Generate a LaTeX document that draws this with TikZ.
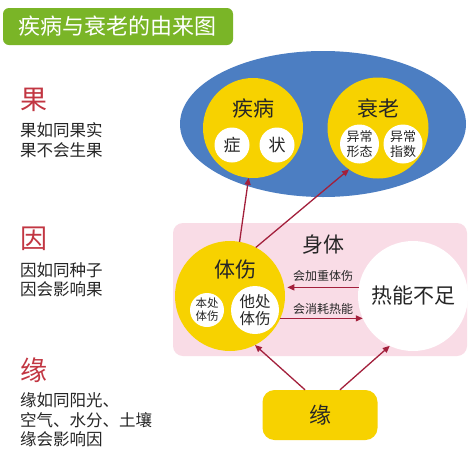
\documentclass[tikz,border=0pt]{standalone}
\usepackage{fontspec}
\setmainfont{Noto Sans CJK SC}
\usetikzlibrary{arrows.meta}
\definecolor{titlegreen}{HTML}{7AB527}
\definecolor{ellblue}{HTML}{4C7EC2}
\definecolor{ylw}{HTML}{F7D200}
\definecolor{pinkbg}{HTML}{F9DCE6}
\definecolor{redtxt}{HTML}{C23642}
\definecolor{arrred}{HTML}{A3203C}
\definecolor{txt}{HTML}{262626}
\tikzset{
  fs/.style={font=\fontsize{#1}{#1}\selectfont},
  fs2/.style 2 args={font=\fontsize{#1}{#2}\selectfont},
  ycirc/.style={circle, fill=ylw, inner sep=0pt, outer sep=0pt, minimum size=#1},
  wcirc/.style={circle, fill=white, inner sep=0pt, outer sep=0pt, minimum size=#1, text=txt, align=center},
  arr/.style={draw=arrred, line width=1.3pt, -{Triangle[length=7pt,width=6pt]}},
  bigred/.style={text=redtxt, fs=27, anchor=west, inner sep=0pt},
  leftline/.style={text=txt, fs=16.5, anchor=west, inner sep=0pt},
  lbl/.style={text=txt, inner sep=0pt}
}
\begin{document}
\begin{tikzpicture}[x=1pt,y=-1pt]
\useasboundingbox (0,0) rectangle (474,453);
\fill[white] (0,0) rectangle (474,453);
% title
\node[fill=titlegreen, rounded corners=6pt, minimum width=230pt, minimum height=37pt, inner sep=0pt, text=white, fs=22] (title) at (118,26.5) {疾病与衰老的由来图};
% left texts
\node[bigred] (guo) at (20,100) {果};
\node[leftline] (guo1) at (20,130) {果如同果实};
\node[leftline] (guo2) at (20,150) {果不会生果};
\node[bigred] (yin) at (20,239) {因};
\node[leftline] (yin1) at (20,270) {因如同种子};
\node[leftline] (yin2) at (20,289) {因会影响果};
\node[bigred] (yuan) at (20,370) {缘};
\node[leftline] (yuan1) at (20,400) {缘如同阳光、};
\node[leftline] (yuan2) at (20,420) {空气、水分、土壤};
\node[leftline] (yuan3) at (20,439) {缘会影响因};
% blue ellipse
\fill[ellblue] (323,124) ellipse [x radius=143, y radius=73];
\node[ycirc=100pt] (jibing) at (253,128) {};
\node[lbl, fs=21] (jibingt) at (253,108) {疾病};
\node[wcirc=35pt, fs=17] (zheng) at (232,145) {症};
\node[wcirc=35pt, fs=17] (zhuang) at (277,145) {状};
\node[ycirc=101pt] (shuailao) at (378,128) {};
\node[lbl, fs=21] (shuailaot) at (378,108) {衰老};
\node[wcirc=39pt, fs2={13}{15}] (xt) at (359.5,144) {异常\\形态};
\node[wcirc=39pt, fs2={13}{15}] (zs) at (403,144) {异常\\指数};
% pink body
\fill[pinkbg, rounded corners=10pt] (173,223) rectangle (467,356);
\node[lbl, fs=21] (shenti) at (323,245) {身体};
\node[ycirc=110pt] (tishang) at (230,296) {};
\node[lbl, fs=21] (tishangt) at (235,270) {体伤};
\node[wcirc=34pt, fs2={11.5}{13}] (benchu) at (207,310) {本处\\体伤};
\node[wcirc=48pt, fs2={15.5}{17.5}] (tachu) at (255,310) {他处\\体伤};
\node[wcirc=110pt, fs=21] (reneng) at (413,296) {热能不足};
% arrows
\draw[arr, shorten >=3pt] (reneng.171) -- (tishang.9);
\node[lbl, fs=12] (jzl) at (323,276) {会加重体伤};
\draw[arr] (tishang.-24) -- (reneng.204);
\node[lbl, fs=12] (xhl) at (323,309) {会消耗热能};
\draw[arr] (tishang.80) -- (jibing.265);
\draw[arr] (tishang.62) -- (shuailao.235);
% yuan box
\node[fill=ylw, rounded corners=12pt, minimum width=115pt, minimum height=50pt, inner sep=0pt, text=txt, fs=22] (yuanbox) at (320,415) {缘};
\draw[arr] ([xshift=-15pt]yuanbox.north) -- (tishang.-63);
\draw[arr] ([xshift=20pt]yuanbox.north) -- (reneng.245);
\end{tikzpicture}
\end{document}
